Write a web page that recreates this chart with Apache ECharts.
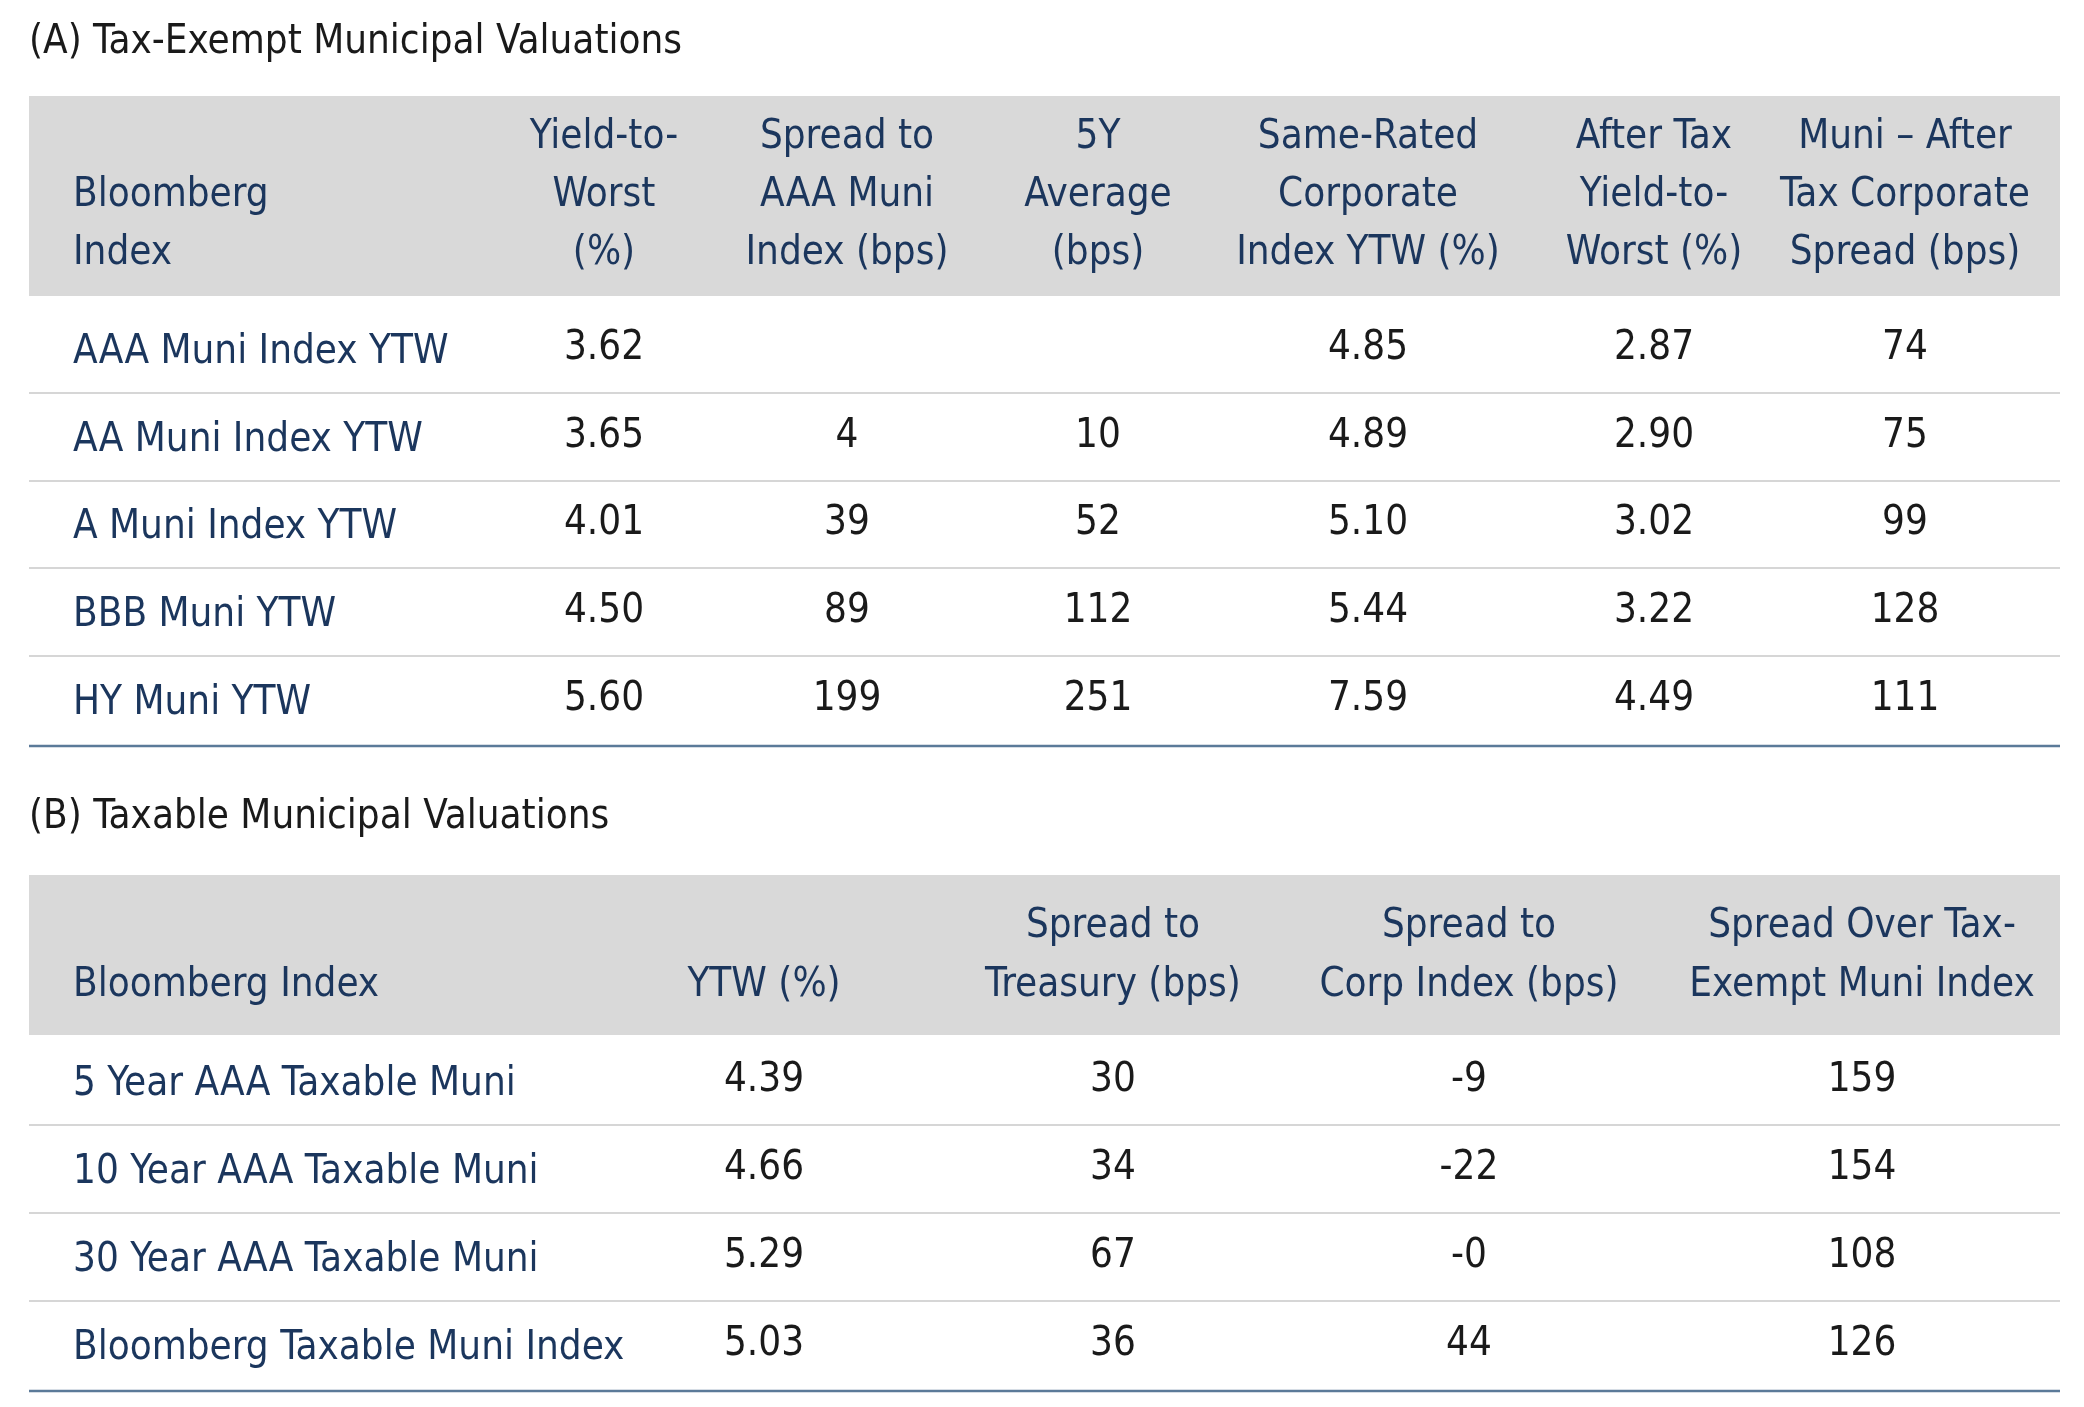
<!DOCTYPE html>
<html>
<head>
<meta charset="utf-8">
<script src="https://cdn.jsdelivr.net/npm/echarts@6/dist/echarts.min.js"></script>
<style>
  html, body { margin: 0; padding: 0; background: #fff; }
  #main { width: 2084px; height: 1407px; }
</style>
</head>
<body>
<div id="main"></div>
<script>
// table A: tax-exempt
const titleA = '(A) Tax-Exempt Municipal Valuations'
const headA = [
  ['Bloomberg', 'Index'],
  ['Yield-to-', 'Worst', '(%)'],
  ['Spread to', 'AAA Muni', 'Index (bps)'],
  ['5Y', 'Average', '(bps)'],
  ['Same-Rated', 'Corporate', 'Index YTW (%)'],
  ['After Tax', 'Yield-to-', 'Worst (%)'],
  ['Muni \u2013 After', 'Tax Corporate', 'Spread (bps)']
]
const rowsA = ['AAA Muni Index YTW', 'AA Muni Index YTW', 'A Muni Index YTW', 'BBB Muni YTW', 'HY Muni YTW']
const ytwA = ['3.62', '3.65', '4.01', '4.50', '5.60']
const spreadAAA = ['', '4', '39', '89', '199']
const avg5y = ['', '10', '52', '112', '251']
const corpYtw = ['4.85', '4.89', '5.10', '5.44', '7.59']
const afterTax = ['2.87', '2.90', '3.02', '3.22', '4.49']
const muniSpread = ['74', '75', '99', '128', '111']

// table B: taxable
const titleB = '(B) Taxable Municipal Valuations'
const headB = [
  ['Bloomberg Index'],
  ['YTW (%)'],
  ['Spread to', 'Treasury (bps)'],
  ['Spread to', 'Corp Index (bps)'],
  ['Spread Over Tax-', 'Exempt Muni Index']
]
const rowsB = ['5 Year AAA Taxable Muni', '10 Year AAA Taxable Muni', '30 Year AAA Taxable Muni', 'Bloomberg Taxable Muni Index']
const ytwB = ['4.39', '4.66', '5.29', '5.03']
const spreadTsy = ['30', '34', '67', '36']
const spreadCorp = ['-9', '-22', '-0', '44']
const spreadTaxEx = ['159', '154', '108', '126']

const k = 2084 / 1560
const S = v => Math.round(v * k)
const FONT = '"Liberation Sans Narrow", "DejaVu Sans Condensed", "Noto Sans", sans-serif'
const NAVY = '#1b365d', INK = '#1a1a1a'
const FS = S(30)

const g = []
function text(str, x, y, color, align) {
  g.push({ type: 'text', x: S(x), y: S(y), style: {
    text: str, fill: color, font: FS + 'px ' + FONT, align: align || 'center', verticalAlign: 'middle' } })
}
function rect(x, y, w, h, fill) {
  g.push({ type: 'rect', shape: { x: S(x), y: S(y), width: S(w), height: S(h) }, style: { fill: fill } })
}
function line(y, color, w) {
  g.push({ type: 'line', shape: { x1: S(22), y1: S(y), x2: S(1542), y2: S(y) }, style: { stroke: color, lineWidth: w } })
}

function table(title, titleY, head, bandTop, bandBot, headYs, cols, rows, values, rowY0, rowH) {
  text(title, 22, titleY, INK, 'left')
  rect(22, bandTop, 1520, bandBot - bandTop, '#d9d9d9')
  head.forEach((lines, c) => {
    const off = headYs.length - lines.length
    lines.forEach((l, i) => text(l, c === 0 ? 55 : cols[c], headYs[off + i], NAVY, c === 0 ? 'left' : 'center'))
  })
  rows.forEach((r, i) => {
    const y = rowY0 + i * rowH
    text(r, 55, y + 3, NAVY, 'left')
    values.forEach((arr, c) => text(arr[i], cols[c + 1], y, INK))
    if (i < rows.length - 1) line(y + rowH / 2, '#c8c8c8', 1.5)
    else line(y + rowH / 2 + 1, '#5b7a99', 2.5)
  })
}

table(titleA, 32, headA, 72, 222, [103, 147, 190], [55, 452, 634, 822, 1024, 1238, 1426],
  rowsA, [ytwA, spreadAAA, avg5y, corpYtw, afterTax, muniSpread], 261, 65.8)
table(titleB, 612, headB, 655, 775, [694, 738], [55, 572, 833, 1100, 1394],
  rowsB, [ytwB, spreadTsy, spreadCorp, spreadTaxEx], 809, 66)

const chart = echarts.init(document.getElementById('main'))
chart.setOption({ backgroundColor: '#fff', graphic: g })
</script>
</body>
</html>
